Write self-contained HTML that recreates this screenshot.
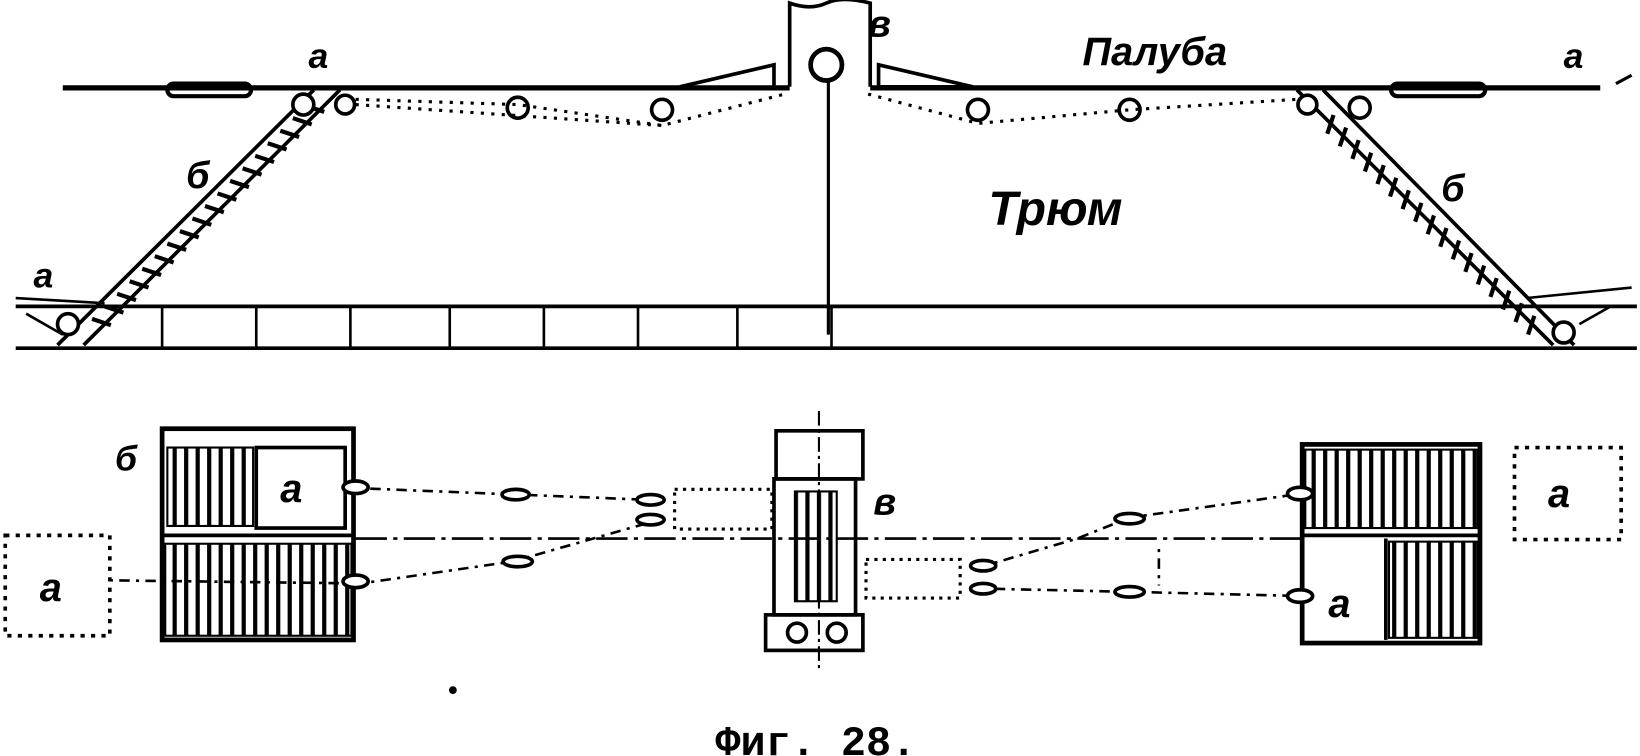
<!DOCTYPE html>
<html><head><meta charset="utf-8"><style>
html,body{margin:0;padding:0;background:#fff;}
svg{display:block;}
.t{font-family:"Liberation Sans",sans-serif;font-style:italic;font-weight:bold;fill:#000;}
</style></head><body>
<svg width="1640" height="756" viewBox="0 0 1568 723" preserveAspectRatio="none" xmlns="http://www.w3.org/2000/svg">
<defs>
<pattern id="st" width="11" height="10" patternUnits="userSpaceOnUse"><rect width="11" height="10" fill="#fff"/><rect x="0" y="0" width="4" height="10" fill="#000"/></pattern>
</defs>
<g stroke="#000" fill="none" stroke-width="3.5">
<line x1="60" y1="84" x2="755" y2="84" stroke-width="5"/>
<line x1="832" y1="84" x2="1530" y2="84" stroke-width="5"/>
<line x1="1545" y1="80" x2="1560" y2="72" stroke-width="3"/>
<rect x="160" y="80" width="80" height="12" rx="6" stroke-width="4"/>
<rect x="1330" y="80" width="90" height="12" rx="6" stroke-width="4"/>
<line x1="15" y1="293" x2="1565" y2="293" stroke-width="3.5"/>
<line x1="15" y1="333" x2="1565" y2="333" stroke-width="3.5"/>
<path d="M155 293V333M245 293V333M335 293V333M430 293V333M520 293V333M610 293V333M705 293V333M795 293V333" stroke-width="2.5"/>
<path d="M15 285L100 290M25 300L60 320" stroke-width="2.5"/>
<path d="M1460 285L1560 275M1510 310L1540 293" stroke-width="2.5"/>
<path d="M55 330L300 86M80 330L325 86" stroke-width="3.5"/>
<path d="M1240 86L1485 330M1265 86L1505 330" stroke-width="3.5"/>
<g stroke-width="4">
<path d="M88 305l18 6M100 293l18 6M112 281l18 6M124 269l18 6M136 257l18 6M148 245l18 6M160 233l18 6M172 221l18 6M184 209l18 6M196 197l18 6M208 185l18 6M220 173l18 6M232 161l18 6M244 149l18 6M256 137l18 6M268 125l18 6M280 113l18 6M292 101l18 6"/>
<path d="M1275 110l-6 18M1287 122l-6 18M1299 134l-6 18M1311 146l-6 18M1323 158l-6 18M1335 170l-6 18M1347 182l-6 18M1359 194l-6 18M1371 206l-6 18M1383 218l-6 18M1395 230l-6 18M1407 242l-6 18M1419 254l-6 18M1431 266l-6 18M1443 278l-6 18M1455 290l-6 18M1467 302l-6 18"/>
</g>
<g stroke-width="3.5" fill="#fff">
<circle cx="290" cy="100" r="10"/><circle cx="330" cy="100" r="9"/><circle cx="495" cy="103" r="10"/><circle cx="633" cy="105" r="10"/>
<circle cx="935" cy="105" r="10"/><circle cx="1080" cy="105" r="10"/><circle cx="1250" cy="100" r="9"/><circle cx="1300" cy="103" r="10"/>
<circle cx="65" cy="310" r="10"/><circle cx="1495" cy="318" r="10"/>
</g>
<g stroke-dasharray="3 7" stroke-width="3">
<path d="M340 95L495 100L633 120L750 90"/>
<path d="M340 100L633 120"/>
<path d="M830 90L935 118L1080 105L1240 95"/>
</g>
<path d="M755 83V3Q775 10 790 3T832 3V83" stroke-width="3.5"/>
<circle cx="790" cy="62" r="15" stroke-width="4.5" fill="#fff"/>
<line x1="792" y1="77" x2="792" y2="320" stroke-width="3"/>
<path d="M650 83L740 62V83M840 62L930 83H840Z" stroke-width="3.5"/>
<rect x="155" y="410" width="183" height="202" stroke-width="4.5"/>
<rect x="160" y="428" width="82" height="75" fill="url(#st)" stroke-width="2"/>
<rect x="245" y="428" width="85" height="77" stroke-width="3.5"/>
<rect x="158" y="520" width="178" height="88" fill="url(#st)" stroke-width="2"/>
<line x1="155" y1="512" x2="338" y2="512" stroke-width="3.5"/>
<rect x="5" y="512" width="100" height="96" stroke-dasharray="4 6" stroke-width="3.5"/>
<rect x="1245" y="425" width="170" height="190" stroke-width="4.5"/>
<rect x="1248" y="430" width="165" height="75" fill="url(#st)" stroke-width="2"/>
<line x1="1245" y1="512" x2="1415" y2="512" stroke-width="3.5"/>
<rect x="1328" y="518" width="85" height="92" fill="url(#st)" stroke-width="2"/>
<line x1="1325" y1="515" x2="1325" y2="612" stroke-width="3.5"/>
<rect x="1448" y="428" width="102" height="88" stroke-dasharray="4 6" stroke-width="3.5"/>
<line x1="783" y1="393" x2="783" y2="640" stroke-width="2" stroke-dasharray="14 4 3 4"/>
<rect x="742" y="412" width="83" height="46" stroke-width="3.5"/>
<rect x="740" y="458" width="78" height="130" stroke-width="3.5"/>
<rect x="760" y="470" width="40" height="105" fill="url(#st)" stroke-width="2"/>
<rect x="732" y="588" width="93" height="34" stroke-width="3.5"/>
<circle cx="762" cy="605" r="9" stroke-width="3.5"/><circle cx="800" cy="605" r="9" stroke-width="3.5"/>
<rect x="645" y="468" width="93" height="38" stroke-dasharray="3 5" stroke-width="3"/>
<rect x="828" y="535" width="90" height="37" stroke-dasharray="3 5" stroke-width="3"/>
<line x1="340" y1="515" x2="1245" y2="515" stroke-width="2.5" stroke-dasharray="30 6 4 6"/>
<g stroke-dasharray="3 6 10 6" stroke-width="2.5">
<path d="M345 467L495 473L620 478"/>
<path d="M105 555L345 558L490 537L620 500"/>
<path d="M1245 472L1080 495L1030 515L945 540"/>
<path d="M1245 570L1080 566L945 563"/>
<line x1="1108" y1="525" x2="1108" y2="560"/>
</g>
<g stroke-width="3.5" fill="#fff">
<ellipse cx="340" cy="466" rx="12" ry="6"/><ellipse cx="340" cy="556" rx="12" ry="6"/>
<ellipse cx="493" cy="473" rx="13" ry="5"/><ellipse cx="495" cy="537" rx="14" ry="5"/>
<ellipse cx="622" cy="478" rx="13" ry="5"/><ellipse cx="622" cy="497" rx="13" ry="5"/>
<ellipse cx="940" cy="541" rx="12" ry="5"/><ellipse cx="940" cy="563" rx="12" ry="5"/>
<ellipse cx="1080" cy="496" rx="14" ry="5"/><ellipse cx="1080" cy="566" rx="14" ry="5"/>
<ellipse cx="1243" cy="472" rx="12" ry="6"/><ellipse cx="1243" cy="570" rx="12" ry="6"/>
</g>
<circle cx="433" cy="660" r="2" fill="#000"/>
</g>
<g class="t">
<text x="1035" y="62" font-size="38">Палуба</text>
<text x="945" y="215" font-size="46">Трюм</text>
<text x="295" y="65" font-size="34">а</text>
<text x="1495" y="65" font-size="34">а</text>
<text x="32" y="275" font-size="34">а</text>
<text x="178" y="180" font-size="36">б</text>
<text x="1378" y="192" font-size="36">б</text>
<text x="830" y="35" font-size="36">в</text>
<text x="268" y="480" font-size="38">а</text>
<text x="38" y="575" font-size="38">а</text>
<text x="1480" y="485" font-size="38">а</text>
<text x="1270" y="590" font-size="38">а</text>
<text x="110" y="450" font-size="34">б</text>
<text x="835" y="492" font-size="36">в</text>
</g>
<text x="780" y="722" font-family="Liberation Mono, monospace" font-size="40" font-weight="bold" text-anchor="middle" fill="#000">Фиг. 28.</text>
</svg>
</body></html>
